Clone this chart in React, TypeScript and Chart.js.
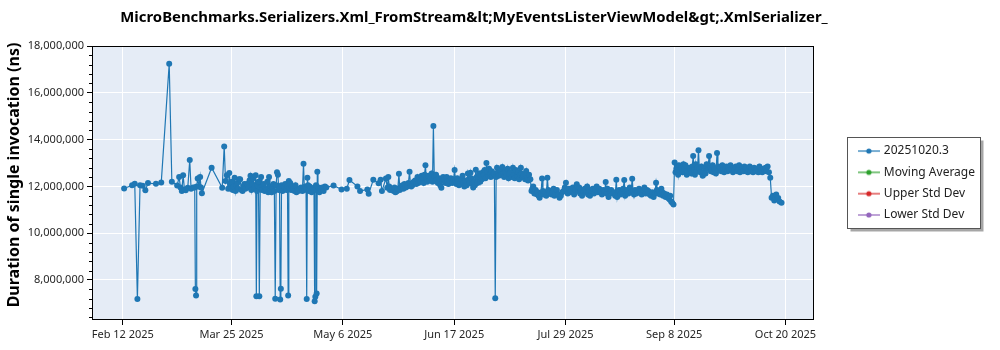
import React, { useEffect, useRef } from 'react';
import { Chart, registerables } from 'chart.js';

Chart.register(...registerables);

const CHART_TITLE = 'MicroBenchmarks.Serializers.Xml_FromStream&lt;MyEventsListerViewModel&gt;.XmlSerializer_';
const Y_TITLE = 'Duration of single invocation (ns)';
const YEAR = 2025;
const SERIES_NAMES = ['20251020.3', 'Moving Average', 'Upper Std Dev', 'Lower Std Dev'];
const SERIES_COLORS = ['#1f77b4', '#2ca02c', '#d62728', '#9467bd'];
const MONTHS = ['Jan', 'Feb', 'Mar', 'Apr', 'May', 'Jun', 'Jul', 'Aug', 'Sep', 'Oct', 'Nov', 'Dec'];
const X_TICK_DATES = ['02-12', '03-25', '05-06', '06-17', '07-29', '09-08', '10-20'];
const Y_TICKS = [8000000, 10000000, 12000000, 14000000, 16000000, 18000000];
const Y_MINOR_STEP = 400000;
const X_RANGE = ['2025-01-31T09:00:00Z', '2025-10-30T14:00:00Z'];
const Y_RANGE = [6290000, 18000000];

type Run = [string, number[]];
// [day (MM-DD), durations of the runs that day in ms]
const feb: Run[] = [
  ['02-12', [11.91]], ['02-15', [12.05]], ['02-16', [12.11]], ['02-17', [7.19]], ['02-18', [12.05]],
  ['02-19', [12.03]], ['02-20', [11.83]], ['02-21', [12.14]], ['02-24', [12.11]], ['02-26', [12.17]],
];
const mar: Run[] = [
  ['03-01', [17.24]], ['03-02', [12.2]], ['03-04', [12.04]], ['03-05', [12.4, 11.95]], ['03-06', [11.8, 12.48]],
  ['03-07', [11.87, 11.83]], ['03-08', [11.94]], ['03-09', [13.13, 11.9]], ['03-10', [11.95]],
  ['03-11', [11.95, 7.62, 7.34, 12.0]], ['03-12', [12.34, 12.0]], ['03-13', [12.4, 11.95, 11.71]],
  ['03-17', [12.8]], ['03-21', [11.94]], ['03-22', [13.71, 12.23]], ['03-23', [12.48, 11.9]],
  ['03-24', [12.57, 12.1, 11.9]], ['03-25', [12.2, 11.85, 12.0]], ['03-26', [12.37, 11.8, 12.05]],
  ['03-27', [12.15, 11.9, 12.3]], ['03-28', [12.3, 11.85]], ['03-29', [11.8, 12.0, 12.1]],
  ['03-30', [11.9, 12.1]], ['03-31', [12.05, 11.95, 12.26]],
];
const apr: Run[] = [
  ['04-01', [12.45, 11.85, 12.1]], ['04-02', [12.35, 11.9, 12.0]], ['04-03', [12.48, 7.3, 11.8, 12.05]],
  ['04-04', [12.2, 7.3, 11.95]], ['04-05', [12.4, 11.85, 12.05]], ['04-06', [12.1, 11.8, 11.9]],
  ['04-07', [11.85, 12.2, 11.75]], ['04-08', [12.4, 11.8, 12.0]], ['04-09', [11.75, 11.95, 12.1]],
  ['04-10', [11.8, 7.2, 12.05]], ['04-11', [12.6, 12.5, 11.85]], ['04-12', [11.9, 7.17, 7.63, 12.05]],
  ['04-13', [11.8, 12.0]], ['04-14', [12.1, 11.85]], ['04-15', [12.0, 7.34, 12.23, 11.95]],
  ['04-16', [12.15, 11.85, 12.0]], ['04-17', [11.9, 11.8]], ['04-18', [12.05, 11.75, 11.85]],
  ['04-19', [11.8, 11.9]], ['04-20', [11.95, 11.8]], ['04-21', [12.97, 11.85, 12.0]],
  ['04-22', [11.9, 7.19, 12.37, 12.05]], ['04-23', [11.8, 12.0, 11.95]], ['04-24', [11.75, 11.9]],
  ['04-25', [11.85, 7.09, 7.28, 12.05]], ['04-26', [7.42, 12.63, 11.8, 11.95]], ['04-27', [11.75, 11.9, 11.85]],
  ['04-28', [11.95, 11.8]], ['04-29', [12.0, 11.95]],
];
const may: Run[] = [
  ['05-02', [12.04]], ['05-05', [11.87]], ['05-07', [11.9]], ['05-08', [12.27]], ['05-11', [12.0]],
  ['05-12', [11.8]], ['05-15', [11.87, 11.69]], ['05-17', [12.28]], ['05-19', [12.13]], ['05-20', [12.28, 11.8]],
  ['05-22', [12.34, 11.94]], ['05-23', [12.4, 12.0, 11.85]], ['05-24', [11.9, 11.85]], ['05-25', [11.8, 11.95, 11.75]],
  ['05-26', [11.78, 11.9]], ['05-27', [12.54, 11.85, 12.0]], ['05-28', [11.95, 12.05, 11.9]],
  ['05-29', [12.1, 11.95]], ['05-30', [12.0, 12.15]], ['05-31', [12.63, 12.1, 12.0]],
];
const jun: Run[] = [
  ['06-01', [12.05, 12.2]], ['06-02', [12.25, 12.1]], ['06-03', [12.4, 12.15, 12.3]], ['06-04', [12.2, 12.45]],
  ['06-05', [12.35, 12.15, 12.5]], ['06-06', [12.9, 12.3, 12.2]], ['06-07', [12.45, 12.25]],
  ['06-08', [12.35, 12.55, 12.2]], ['06-09', [14.58, 12.4, 12.25]], ['06-10', [12.5, 12.3, 12.15]],
  ['06-11', [12.35, 12.05]], ['06-12', [11.94, 12.25, 12.4]], ['06-13', [12.3, 12.15]],
  ['06-14', [12.4, 12.2, 12.1]], ['06-15', [12.25, 12.35]], ['06-16', [12.15, 12.3]],
  ['06-17', [12.7, 12.25, 12.1]], ['06-18', [12.35, 12.2, 12.05]], ['06-19', [12.1, 12.3]],
  ['06-20', [12.45, 12.15, 12.0]], ['06-21', [12.25, 12.05]], ['06-22', [12.55, 12.3, 12.15]],
  ['06-23', [12.58, 12.35, 12.1]], ['06-24', [11.95, 12.2, 12.05]], ['06-25', [12.71, 12.4, 12.15]],
  ['06-26', [12.35, 12.55, 12.2]], ['06-27', [12.45, 12.3, 12.6]], ['06-28', [12.5, 12.7, 12.35]],
  ['06-29', [13.0, 12.6, 12.45]], ['06-30', [12.75, 12.5, 12.4]],
];
const jul: Run[] = [
  ['07-01', [12.65, 12.45, 12.55]], ['07-02', [12.55, 7.22, 12.4]], ['07-03', [12.8, 12.6, 12.45]],
  ['07-04', [12.7, 12.5]], ['07-05', [12.83, 12.55, 12.4]], ['07-06', [12.65, 12.45]],
  ['07-07', [12.75, 12.35, 12.55]], ['07-08', [12.6, 12.4]], ['07-09', [12.8, 12.5, 12.35]],
  ['07-10', [12.7, 12.45]], ['07-11', [12.6, 12.3, 12.5]], ['07-12', [12.8, 12.55, 12.4]],
  ['07-13', [12.45, 12.3]], ['07-14', [12.66, 12.35, 12.25]], ['07-15', [12.5, 12.3]],
  ['07-16', [11.8, 11.9, 12.0]], ['07-17', [11.7, 11.85]], ['07-18', [11.66, 11.75, 11.6]],
  ['07-19', [11.51, 11.7]], ['07-20', [12.34, 11.8, 11.65]], ['07-21', [11.75, 11.6]],
  ['07-22', [12.37, 11.85, 11.7]], ['07-23', [11.8, 11.65]], ['07-24', [11.75, 11.9, 11.6]],
  ['07-25', [11.7, 11.85]], ['07-26', [11.65, 11.51]], ['07-27', [11.6, 11.75]], ['07-28', [11.8, 11.95]],
  ['07-29', [12.16, 11.85, 11.7]], ['07-30', [11.9, 11.75]], ['07-31', [11.8, 11.95]],
];
const aug: Run[] = [
  ['08-01', [11.65, 11.85]], ['08-02', [12.09, 11.8]], ['08-03', [11.95, 11.7, 11.85]], ['08-04', [11.6, 11.8]],
  ['08-05', [11.9, 11.75]], ['08-06', [12.0, 11.65, 11.85]], ['08-07', [11.6, 11.8]], ['08-08', [11.9, 11.7]],
  ['08-09', [11.85, 12.0]], ['08-10', [11.75, 11.9]], ['08-11', [11.8, 11.65]], ['08-12', [11.85, 11.75]],
  ['08-13', [12.19, 11.7, 11.9]], ['08-14', [11.55, 11.8]], ['08-15', [11.85, 11.7]], ['08-16', [11.75, 11.6]],
  ['08-17', [12.28, 11.55, 11.8]], ['08-18', [11.85, 11.65]], ['08-19', [11.75, 11.9]],
  ['08-20', [12.27, 11.6, 11.8]], ['08-21', [11.85, 11.7]], ['08-22', [11.95, 11.75]],
  ['08-23', [12.33, 11.8, 11.65]], ['08-24', [11.85, 11.7]], ['08-25', [11.75, 11.9]], ['08-26', [11.8, 11.65]],
  ['08-27', [11.85, 11.95]], ['08-28', [11.7, 11.85]], ['08-29', [11.8, 11.65]], ['08-30', [11.6, 11.75]],
  ['08-31', [11.55, 11.7]],
];
const sep: Run[] = [
  ['09-01', [12.16, 11.85, 11.7]], ['09-02', [11.8, 11.65]], ['09-03', [11.9, 11.75, 11.6]], ['09-04', [11.7, 11.55]],
  ['09-05', [11.65, 11.5]], ['09-06', [11.45, 11.6, 11.35]], ['09-07', [11.3, 11.23]],
  ['09-08', [13.02, 12.6, 12.75]], ['09-09', [12.85, 12.5, 12.9]], ['09-10', [12.7, 12.8]],
  ['09-11', [12.6, 12.95, 12.75]], ['09-12', [12.9, 12.5]], ['09-13', [12.65, 12.8]],
  ['09-14', [12.75, 12.55, 12.85]], ['09-15', [13.3, 12.7, 12.5]], ['09-16', [12.95, 12.65, 12.8]],
  ['09-17', [13.54, 12.75, 12.6]], ['09-18', [12.85, 12.45]], ['09-19', [12.6, 12.8, 12.55]],
  ['09-20', [12.95, 12.75]], ['09-21', [13.3, 12.8, 12.65]], ['09-22', [12.7, 12.9, 12.6]],
  ['09-23', [12.75, 12.55]], ['09-24', [13.43, 12.85, 12.7]], ['09-25', [12.8, 12.65]],
  ['09-26', [12.9, 12.7, 12.6]], ['09-27', [12.75, 12.85]], ['09-28', [12.65, 12.8, 12.7]],
  ['09-29', [12.9, 12.75]], ['09-30', [12.6, 12.8, 12.7]],
];
const oct: Run[] = [
  ['10-01', [12.85, 12.65]], ['10-02', [12.75, 12.9, 12.6]], ['10-03', [12.7, 12.8]], ['10-04', [12.65, 12.85, 12.75]],
  ['10-05', [12.8, 12.6]], ['10-06', [12.7, 12.85, 12.65]], ['10-07', [12.75, 12.6]], ['10-08', [12.8, 12.7, 12.65]],
  ['10-09', [12.75, 12.6]], ['10-10', [12.85, 12.65, 12.7]], ['10-11', [12.6, 12.75]], ['10-12', [12.7, 12.8, 12.65]],
  ['10-13', [12.85, 12.6]], ['10-14', [12.37, 11.51]], ['10-15', [11.6, 11.4]], ['10-16', [11.55, 11.65, 11.45]],
  ['10-17', [11.5, 11.35]], ['10-18', [11.3]],
];
const RUNS_BY_MONTH = [feb, mar, apr, may, jun, jul, aug, sep, oct];

const FONT = "'Noto Sans', 'Open Sans', sans-serif";
const PLOT_BG = '#e5ecf6';
const DAY_MS = 86400000;

function dayMs(mmdd: string): number {
  const [m, d] = mmdd.split('-').map(Number);
  return Date.UTC(YEAR, m - 1, d);
}

function formatDate(v: number): string {
  const dt = new Date(v);
  return `${MONTHS[dt.getUTCMonth()]} ${dt.getUTCDate()} ${dt.getUTCFullYear()}`;
}

function buildPoints() {
  const pts: { x: number; y: number }[] = [];
  for (const month of RUNS_BY_MONTH) {
    for (const [day, runs] of month) {
      const start = dayMs(day);
      runs.forEach((ms, i) => {
        pts.push({ x: start + ((i + 0.5) / runs.length) * DAY_MS, y: ms * 1e6 });
      });
    }
  }
  return pts;
}

function legendIcon(color: string): HTMLCanvasElement {
  const c = document.createElement('canvas');
  c.width = 22;
  c.height = 8;
  const g = c.getContext('2d')!;
  g.strokeStyle = color;
  g.lineWidth = 1.2;
  g.beginPath();
  g.moveTo(0, 4);
  g.lineTo(22, 4);
  g.stroke();
  g.fillStyle = color;
  g.beginPath();
  g.arc(11, 4, 2.6, 0, Math.PI * 2);
  g.fill();
  return c;
}

const decorPlugin = {
  id: 'decor',
  beforeDraw(chart: any) {
    const { ctx, chartArea: a } = chart;
    ctx.save();
    ctx.fillStyle = '#ffffff';
    ctx.fillRect(0, 0, chart.width, chart.height);
    ctx.fillStyle = PLOT_BG;
    ctx.fillRect(a.left, a.top, a.right - a.left, a.bottom - a.top);
    // legend frame
    const hb = chart.legend && chart.legend.legendHitBoxes;
    if (hb && hb.length) {
      const l = Math.round(hb[0].left - 13) + 0.5;
      const t = Math.round(hb[0].top - 8) + 0.5;
      const last = hb[hb.length - 1];
      const b = Math.round(last.top + last.height + 7) + 0.5;
      const r = l + 133;
      ctx.fillStyle = 'rgba(0,0,0,0.35)';
      ctx.fillRect(l + 3, t + 3, r - l, b - t);
      ctx.fillStyle = '#ffffff';
      ctx.fillRect(l, t, r - l, b - t);
      ctx.strokeStyle = '#555555';
      ctx.lineWidth = 1;
      ctx.strokeRect(l, t, r - l, b - t);
    }
    ctx.restore();
  },
  afterDraw(chart: any) {
    const { ctx, chartArea: a } = chart;
    const yScale = chart.scales.y;
    ctx.save();
    // plot frame
    ctx.strokeStyle = '#000000';
    ctx.lineWidth = 1;
    ctx.strokeRect(Math.round(a.left) + 0.5, Math.round(a.top) + 0.5, Math.round(a.right - a.left) - 1, Math.round(a.bottom - a.top) - 1);
    // minor ticks
    ctx.beginPath();
    for (let v = Math.ceil(Y_RANGE[0] / Y_MINOR_STEP) * Y_MINOR_STEP; v <= Y_RANGE[1]; v += Y_MINOR_STEP) {
      if (Y_TICKS.includes(v)) continue;
      const py = Math.round(yScale.getPixelForValue(v)) + 0.5;
      ctx.moveTo(a.left - 3, py);
      ctx.lineTo(a.left, py);
    }
    ctx.stroke();
    // chart title
    ctx.fillStyle = '#000000';
    ctx.font = `bold 14.9px ${FONT}`;
    ctx.textAlign = 'center';
    ctx.textBaseline = 'middle';
    ctx.fillText(CHART_TITLE, 474, 18);
    // y axis title
    ctx.translate(14, 175);
    ctx.rotate(-Math.PI / 2);
    ctx.font = `bold 16px ${FONT}`;
    ctx.fillText(Y_TITLE, 0, 0);
    ctx.restore();
  },
};

export default function App() {
  const ref = useRef<HTMLCanvasElement | null>(null);

  useEffect(() => {
    if (!ref.current) return;
    const points = buildPoints();
    const chart = new Chart(ref.current, {
      type: 'line',
      data: {
        datasets: SERIES_NAMES.map((name, i) => ({
          label: name,
          data: i === 0 ? points : [],
          borderColor: SERIES_COLORS[i],
          backgroundColor: SERIES_COLORS[i],
          pointBackgroundColor: SERIES_COLORS[i],
          pointBorderWidth: 0,
          pointRadius: 3,
          pointHoverRadius: 3,
          borderWidth: 1.2,
          tension: 0,
          xAxisID: 'x',
          yAxisID: 'y',
        })),
      },
      options: {
        animation: false,
        responsive: false,
        events: [],
        layout: { padding: { top: 46, right: 15, bottom: 0, left: 0 } },
        scales: {
          x: {
            type: 'linear',
            min: Date.parse(X_RANGE[0]),
            max: Date.parse(X_RANGE[1]),
            afterBuildTicks: (s: any) => {
              s.ticks = X_TICK_DATES.map((d) => ({ value: dayMs(d) }));
            },
            afterFit: (s: any) => {
              s.height = 30;
            },
            ticks: {
              autoSkip: false,
              maxRotation: 0,
              padding: 3,
              color: '#262626',
              font: { family: FONT, size: 11 },
              callback: (v: any) => formatDate(Number(v)),
            },
            grid: { color: '#ffffff', lineWidth: 1, tickColor: '#000000', tickLength: 5, drawTicks: true },
            border: { display: false },
          },
          y: {
            type: 'linear',
            position: 'left',
            min: Y_RANGE[0],
            max: Y_RANGE[1],
            afterBuildTicks: (s: any) => {
              s.ticks = Y_TICKS.map((v) => ({ value: v }));
            },
            afterFit: (s: any) => {
              s.width = 92;
            },
            ticks: {
              padding: 3,
              color: '#262626',
              font: { family: FONT, size: 11 },
              callback: (v: any) => Number(v).toLocaleString('en-US'),
            },
            grid: { color: '#ffffff', lineWidth: 1, tickColor: '#000000', tickLength: 5, drawTicks: true },
            border: { display: false },
          },
          yPad: {
            type: 'linear',
            position: 'right',
            display: true,
            grid: { display: false, drawTicks: false },
            border: { display: false },
            ticks: { display: false },
            afterFit: (s: any) => {
              s.width = 37;
            },
          },
        },
        plugins: {
          title: { display: false },
          tooltip: { enabled: false },
          legend: {
            display: true,
            position: 'right',
            fullSize: false,
            align: 'center',
            labels: {
              usePointStyle: true,
              pointStyleWidth: 18,
              padding: 9.3,
              color: '#222222',
              font: { family: FONT, size: 12 },
              generateLabels: (ch: any) =>
                ch.data.datasets.map((ds: any, i: number) => ({
                  text: ds.label,
                  fillStyle: ds.borderColor,
                  strokeStyle: ds.borderColor,
                  fontColor: '#222222',
                  lineWidth: 0,
                  hidden: false,
                  datasetIndex: i,
                  pointStyle: legendIcon(ds.borderColor),
                })),
            },
          },
        },
      },
      plugins: [decorPlugin],
    } as any);
    return () => chart.destroy();
  }, []);

  return (
    <div style={{ position: 'absolute', left: 0, top: 0, width: 1000, height: 350, background: '#fff' }}>
      <canvas ref={ref} width={1000} height={350} style={{ display: 'block' }} />
    </div>
  );
}
